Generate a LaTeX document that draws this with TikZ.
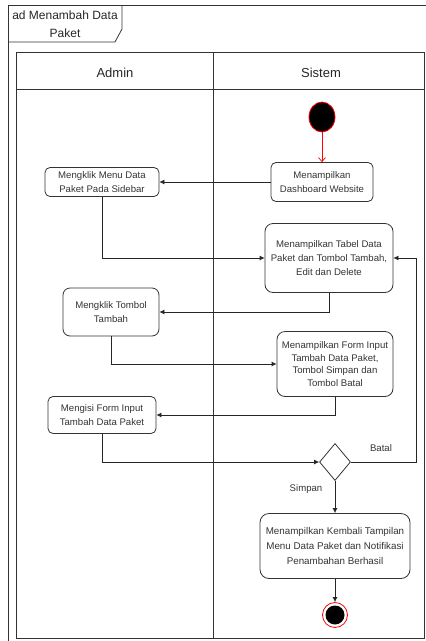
\documentclass[tikz,border=0pt]{standalone}
\usepackage{fontspec}
\setmainfont{Liberation Sans}
\usetikzlibrary{shapes.geometric,arrows.meta}
\begin{document}
\begin{tikzpicture}[x=1pt,y=-1pt,
  frameline/.style={draw=black!80, line width=0.8pt},
  act/.style={draw=black!80, rounded corners=5pt, align=center, text=black!80,
    font=\fontsize{9.6}{14}\selectfont, inner sep=1pt, line width=0.8pt},
  flow/.style={draw=black!85, line width=0.8pt, -{Latex[length=5pt,width=5pt]}},
  lbl/.style={text=black!80, font=\fontsize{9.6}{12}\selectfont, inner sep=0pt},
  hdr/.style={text=black!85, font=\fontsize{13}{15}\selectfont, inner sep=0pt}]
\useasboundingbox (0,0) rectangle (426,641);
\clip (0,0) rectangle (426,641);
% outer frame
\draw[frameline] (8,650) -- (8,5) -- (440,5);
\draw[frameline] (8,42) -- (115,42) -- (122,29) -- (122,5);
\node[text=black!85, font=\fontsize{12}{18}\selectfont, align=center, inner sep=0pt] (title) at (65,24) {ad Menambah Data\\Paket};
% pool
\draw[frameline] (16,52) rectangle (424,638);
\draw[frameline] (16,89) -- (424,89);
\draw[frameline] (213,52) -- (213,638);
\node[hdr] (hadmin) at (115,73) {Admin};
\node[hdr] (hsistem) at (321,73) {Sistem};
% nodes
\node[ellipse, fill=black, draw=red, line width=0.8pt, minimum width=26, minimum height=30, inner sep=0pt] (start) at (322,117) {};
\node[act, minimum width=102, minimum height=39] (dash) at (322,182) {Menampilkan\\Dashboard Website};
\node[act, minimum width=114, minimum height=29] (menu) at (102,182) {Mengklik Menu Data\\Paket Pada Sidebar};
\node[act, rounded corners=8pt, minimum width=128, minimum height=69] (tabel) at (329,258) {Menampilkan Tabel Data\\Paket dan Tombol Tambah,\\Edit dan Delete};
\node[act, rounded corners=7pt, minimum width=96, minimum height=48] (tambah) at (111,312) {Mengklik Tombol\\Tambah};
\node[act, rounded corners=8pt, minimum width=116, minimum height=65, font=\fontsize{9.6}{12.5}\selectfont] (form) at (335,364) {Menampilkan Form Input\\Tambah Data Paket,\\Tombol Simpan dan\\Tombol Batal};
\node[act, minimum width=108, minimum height=37] (isi) at (102,415) {Mengisi Form Input\\Tambah Data Paket};
\node[diamond, draw=black!80, line width=0.8pt, minimum width=31, minimum height=37, inner sep=0pt] (dec) at (335,462) {};
\node[act, rounded corners=9pt, minimum width=150, minimum height=65, font=\fontsize{9.8}{15}\selectfont] (kembali) at (335,546) {Menampilkan Kembali Tampilan\\Menu Data Paket dan Notifikasi\\Penambahan Berhasil};
\node[circle, draw=red, line width=0.8pt, minimum size=25, inner sep=0pt] (end) at (335,615) {};
\node[circle, fill=black, minimum size=19, inner sep=0pt] (endin) at (end) {};
\coordinate (bt) at (416,462);
% labels
\node[lbl] (batal) at (381,448) {Batal};
\node[lbl] (simpan) at (306,489) {Simpan};
% connectors
\draw[draw=red, line width=0.7pt, -{Straight Barb[length=4pt,width=7pt]}] (start) -- (dash);
\draw[flow] (dash) -- (menu);
\draw[flow] (menu.south) |- (tabel.west);
\draw[flow] (tabel.south) |- (tambah.east);
\draw[flow] (tambah.south) |- (form.west);
\draw[flow] (form.south) |- (isi.east);
\draw[flow] (isi.south) |- (dec.west);
\draw[flow] (dec.east) -- (bt) |- (tabel.east);
\draw[flow] (dec) -- (kembali);
\draw[flow] (kembali) -- (end);
\end{tikzpicture}
\end{document}
